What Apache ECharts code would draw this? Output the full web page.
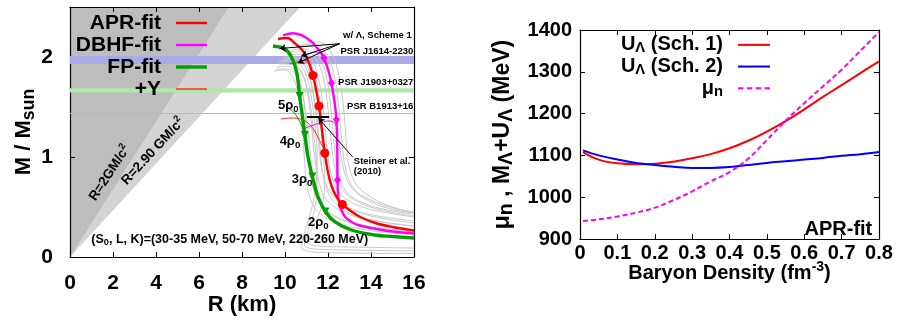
<!DOCTYPE html>
<html>
<head>
<meta charset="utf-8">
<script src="https://cdn.jsdelivr.net/npm/echarts@6/dist/echarts.min.js"></script>
<style>
  html, body { margin: 0; padding: 0; background: #fff; }
  #chart { width: 899px; height: 320px; }
</style>
</head>
<body>
<div id="chart"></div>
<script>
// ---- left panel: M-R relations, [R (km), M / Msun] ----
const aprFit = [[9.68,2.18],[10.1,2.19],[10.5,2.13],[10.8,2.07],[11.0,2.0],[11.15,1.92],[11.3,1.815],[11.45,1.67],[11.58,1.51],[11.72,1.27],[11.85,1.04],[11.98,0.87],[12.15,0.72],[12.4,0.6],[12.67,0.525],[13.0,0.47],[13.5,0.4],[14.2,0.34],[15.0,0.3],[16,0.265]];
const dbhfFit = [[9.91,2.217],[10.37,2.237],[10.75,2.22],[11.0,2.19],[11.25,2.15],[11.46,2.1],[11.65,2.05],[11.81,1.99],[12.0,1.876],[12.16,1.74],[12.31,1.54],[12.39,1.374],[12.43,1.1],[12.44,0.77],[12.5,0.56],[12.62,0.47],[12.8,0.4],[13.1,0.35],[13.4,0.32],[14.0,0.29],[14.8,0.26],[16,0.235]];
const fpFit = [[9.44,2.11],[9.91,2.09],[10.15,2.05],[10.3,2.0],[10.45,1.92],[10.55,1.84],[10.62,1.74],[10.68,1.61],[10.75,1.5],[10.81,1.41],[10.92,1.22],[11.07,1.0],[11.27,0.805],[11.53,0.605],[11.88,0.455],[12.31,0.354],[13.09,0.27],[14.17,0.22],[15.0,0.205],[16,0.19]];
const aprDots = [[11.3,1.815],[11.58,1.51],[11.85,1.04],[12.67,0.525]];
const dbhfDots = [[11.81,1.99],[12.16,1.74],[12.39,1.374],[12.44,0.77]];
const fpDots = [[10.68,1.61],[10.92,1.22],[11.27,0.805],[11.88,0.455]];
// hyperon branches
const aprY = [[9.8,1.38],[10.3,1.39],[10.8,1.375],[11.1,1.335],[11.35,1.27],[11.55,1.19],[11.76,1.1]];
const dbhfY = [[10.8,1.28],[11.2,1.31],[11.6,1.34],[12.0,1.36],[12.25,1.35],[12.4,1.3]];
const fpY = [[10.1,1.49],[10.35,1.46],[10.6,1.39],[10.8,1.3],[10.9,1.24]];
const aprLam = [[10.2,1.93],[10.6,1.95],[10.9,1.965],[11.12,1.95]];
const dbhfLam = [[10.75,2.0],[11.1,2.03],[11.4,2.05],[11.68,2.04]];
// background family of curves
const grayCurves = [
  [[9.6,1.9],[10.1,1.91],[10.5,1.84],[10.8,1.66],[10.95,1.4],[11.05,1.1],[11.2,0.8],[11.5,0.58],[12.2,0.42],[13.5,0.32],[16,0.25]],
  [[9.7,1.96],[10.2,1.97],[10.7,1.88],[11.0,1.7],[11.2,1.4],[11.35,1.05],[11.55,0.78],[11.9,0.58],[12.8,0.44],[14.2,0.36],[16,0.31]],
  [[9.9,2.0],[10.5,2.0],[10.95,1.9],[11.25,1.7],[11.45,1.4],[11.6,1.05],[11.8,0.8],[12.2,0.62],[13.2,0.47],[14.6,0.4],[16,0.36]],
  [[10.2,2.05],[10.8,2.06],[11.3,1.95],[11.6,1.75],[11.8,1.45],[11.95,1.1],[12.15,0.82],[12.6,0.62],[13.6,0.5],[14.8,0.44],[16,0.4]],
  [[10.5,2.1],[11.1,2.11],[11.6,2.0],[11.95,1.78],[12.15,1.45],[12.3,1.1],[12.5,0.82],[12.95,0.63],[13.9,0.52],[15,0.46],[16,0.43]],
  [[10.8,2.13],[11.4,2.13],[11.95,2.02],[12.3,1.8],[12.5,1.5],[12.65,1.15],[12.85,0.85],[13.3,0.66],[14.2,0.55],[15.2,0.48],[16,0.45]],
  [[9.5,1.86],[10.0,1.87],[10.4,1.78],[10.65,1.58],[10.8,1.3],[10.9,1.0],[11.0,0.75],[11.3,0.52],[12.0,0.38],[13.5,0.28],[16,0.22]],
  [[9.7,1.93],[10.3,1.93],[10.8,1.83],[11.1,1.62],[11.3,1.3],[11.45,0.98],[11.5,0.7],[11.35,0.45],[11.05,0.25],[10.9,0.12],[11.4,0.08],[13,0.07],[16,0.06]],
  [[10.0,1.98],[10.6,1.99],[11.1,1.88],[11.45,1.65],[11.65,1.32],[11.8,1.0],[11.85,0.72],[11.7,0.5],[11.3,0.3],[11.0,0.16],[11.5,0.11],[13,0.1],[16,0.09]],
  [[9.8,1.95],[10.4,1.96],[10.9,1.86],[11.2,1.63],[11.4,1.3],[11.5,1.0],[11.45,0.72],[11.2,0.45],[10.85,0.2],[10.75,0.1],[11.3,0.05],[13,0.04],[16,0.035]],
  [[10.3,2.07],[10.9,2.08],[11.45,1.98],[11.8,1.78],[12.0,1.48],[12.15,1.15],[12.35,0.86],[12.8,0.64],[13.7,0.52],[14.9,0.45],[16,0.41]],
  [[10.6,2.11],[11.2,2.12],[11.75,2.02],[12.1,1.8],[12.35,1.5],[12.5,1.2],[12.7,0.9],[13.1,0.69],[14,0.55],[15.1,0.47],[16,0.44]],
  [[11.0,2.15],[11.6,2.15],[12.15,2.04],[12.5,1.82],[12.72,1.5],[12.85,1.15],[13.0,0.88],[13.4,0.7],[14.3,0.56],[15.3,0.48],[16,0.45]],
  [[9.6,1.88],[10.1,1.88],[10.55,1.8],[10.85,1.6],[11.05,1.3],[11.2,0.98],[11.35,0.72],[11.7,0.52],[12.5,0.39],[14,0.3],[16,0.26]],
  [[10.1,2.02],[10.7,2.03],[11.2,1.93],[11.5,1.72],[11.7,1.4],[11.85,1.05],[12.05,0.78],[12.45,0.58],[13.4,0.45],[14.7,0.38],[16,0.34]],
  [[9.9,1.98],[10.5,1.98],[11.0,1.88],[11.3,1.66],[11.5,1.36],[11.65,1.05],[11.8,0.78],[12.2,0.57],[13.1,0.43],[14.5,0.35],[16,0.31]]
];
// causality / GR limits R = 2GM/c^2 and R = 2.90 GM/c^2
const grLimit = [[0,0],[7.38,2.5]];
const causalLimit = [[0,0],[10.71,2.5]];
// observed masses
const psr1614 = [1.93, 2.01];
const psr1903 = [1.646, 1.688];
const psr1913 = 1.44;
const steinerBar = [[11.02,1.4],[12.05,1.4]];
const steinerArrow = [[13.15,1.0],[11.55,1.39]];
const lambdaFrom = [12.54,2.133];
const lambdaTo = [[9.75,2.085],[10.76,2.01],[10.6,1.94]];

// ---- right panel: energies vs baryon density ----
const density = [0.008,0.05,0.1,0.15,0.2,0.25,0.3,0.35,0.4,0.45,0.5,0.55,0.6,0.65,0.7,0.75,0.8];
const uSch1 = [1108,1090,1081,1079,1080,1085,1093,1103,1117,1135,1157,1182,1210,1240,1268,1297,1325];
const uSch2 = [1112,1100,1090,1082,1077,1073,1070,1070,1072,1077,1082,1086,1090,1094,1099,1103,1108];
const muN = [943,947,954,963,975,993,1014,1038,1060,1092,1137,1183,1225,1265,1305,1350,1395];

const FONT = "'Liberation Sans', Arial, Helvetica, sans-serif";
function txt(size) {
  return { fontFamily: FONT, fontWeight: 'bold', fontSize: size, color: '#000' };
}
function richFor(size, subScale) {
  const k = subScale || 0.74;
  return {
    s: Object.assign(txt(size * k), { lineHeight: size * 0.8, verticalAlign: 'bottom' }),
    p: Object.assign(txt(size * 0.7), { lineHeight: size * 0.8, verticalAlign: 'top' }),
    g: Object.assign(txt(size), { width: 10 })
  };
}

// text notes on the left panel (anchor in data units)
const leftNotes = [
  { at: [12.70, 2.212], text: 'w/ Λ, Scheme 1', size: 9.5, align: 'left' },
  { at: [15.97, 2.06], text: 'PSR J1614-2230', size: 9.5, align: 'right' },
  { at: [15.97, 1.745], text: 'PSR J1903+0327', size: 9.5, align: 'right' },
  { at: [15.97, 1.507], text: 'PSR B1913+16', size: 9.5, align: 'right' },
  { at: [13.2, 0.958], text: 'Steiner et al.', size: 9.5, align: 'left' },
  { at: [13.2, 0.853], text: '(2010)', size: 9.5, align: 'left' },
  { at: [9.67, 1.515], text: '5ρ{s|0}', size: 13, align: 'left' },
  { at: [9.75, 1.156], text: '4ρ{s|0}', size: 13, align: 'left' },
  { at: [10.31, 0.772], text: '3ρ{s|0}', size: 13, align: 'left' },
  { at: [11.07, 0.344], text: '2ρ{s|0}', size: 13, align: 'left' },
  { at: [0.99, 0.178], text: '(S{s|0}, L, K)=(30-35 MeV, 50-70 MeV, 220-260 MeV)', size: 12.5, align: 'left' },
  { at: [1.85, 0.84], text: 'R=2GM/c{p|2}', size: 13.5, align: 'center', rotate: 56.7 },
  { at: [3.86, 1.056], text: 'R=2.90 GM/c{p|2}', size: 13.5, align: 'center', rotate: 47.4 }
];

function noteData(list) {
  return list.map(function (n) {
    return {
      value: n.at,
      label: Object.assign(txt(n.size), {
        show: true, position: [0, 0], formatter: n.text, align: n.align,
        verticalAlign: 'middle', rotate: n.rotate || 0, lineHeight: n.size * 1.3,
        rich: richFor(n.size)
      })
    };
  });
}
function notes(list, axisIdx) {
  return {
    type: 'scatter', xAxisIndex: axisIdx, yAxisIndex: axisIdx, symbolSize: 0, silent: true, z: 7,
    itemStyle: { color: '#000', opacity: 1 }, data: noteData(list)
  };
}

function curve(name, data, color, width, z, extra) {
  return Object.assign({
    name: name, type: 'line', data: data, xAxisIndex: 0, yAxisIndex: 0,
    symbol: 'none', smooth: 0.35, silent: true, z: z,
    lineStyle: { color: color, width: width }, itemStyle: { color: color }
  }, extra || {});
}
function dots(data, symbol, size, color, rotate) {
  return {
    type: 'scatter', data: data, xAxisIndex: 0, yAxisIndex: 0, symbol: symbol,
    symbolSize: size, symbolRotate: rotate || 0, itemStyle: { color: color, opacity: 1 }, z: 6, silent: true
  };
}
// flat bar icons for the legends, so the key shows the line width only
function barIcon(h) { return 'path://M0,0H31V' + h + 'H0Z'; }
const dashIcon = 'path://M0,0H5V2H0Z M8,0H13V2H8Z M16,0H21V2H16Z M24,0H29V2H24Z';

const axisBase = {
  axisLine: { show: true, onZero: false, lineStyle: { color: '#000', width: 1.2 } },
  axisTick: { show: true, inside: true, length: 5, lineStyle: { color: '#000', width: 1 } },
  splitLine: { show: false },
  nameMoveOverlap: false
};
function axis(o) { return Object.assign({}, JSON.parse(JSON.stringify(axisBase)), o); }

const series = [];
// shaded triangles
series.push(curve('', causalLimit, '#d3d3d3', 0, 0, {
  smooth: false, areaStyle: { color: '#d3d3d3', opacity: 1, origin: 'end' },
  markArea: {
    silent: true, z: 1,
    data: [
      [{ yAxis: psr1614[0], itemStyle: { color: '#aaaae6' } }, { yAxis: psr1614[1] }],
      [{ yAxis: psr1903[0], itemStyle: { color: '#aee6ae' } }, { yAxis: psr1903[1] }]
    ]
  },
  markLine: {
    silent: true, z: 1, symbol: ['none', 'none'], label: { show: false },
    lineStyle: { color: '#f2a0a0', width: 1, type: 'solid' },
    data: [{ yAxis: psr1913 }]
  }
}));
series.push(curve('', grLimit, '#bdbdbd', 0, 0, {
  smooth: false, areaStyle: { color: '#bdbdbd', opacity: 1, origin: 'end' }
}));
grayCurves.forEach(function (c) { series.push(curve('', c, '#c9c9c9', 1, 2)); });
series.push(curve('+Y', aprY, '#ff2020', 1, 3));
series.push(curve('+Y DBHF', dbhfY, '#ff00ff', 1, 3));
series.push(curve('+Y FP', fpY, '#00a000', 1, 3));
series.push(curve('Λ APR', aprLam, '#ff0000', 1, 3));
series.push(curve('Λ DBHF', dbhfLam, '#ff00ff', 1, 3));
series.push(curve('DBHF-fit', dbhfFit, '#ff00ff', 2.4, 4));
series.push(curve('APR-fit', aprFit, '#ff0000', 2.4, 4));
series.push(curve('FP-fit', fpFit, '#00a000', 3.4, 4));
series.push(dots(aprDots, 'circle', 9, '#ff0000'));
series.push(dots(dbhfDots, 'diamond', [7, 9], '#ff00ff'));
series.push(dots(fpDots, 'triangle', 8, '#00a000', 180));
// Steiner et al. bar and arrows
series.push(curve('', steinerBar, '#000', 2, 5, {
  smooth: false,
  markLine: {
    silent: true, z: 5, symbol: ['none', 'arrow'], symbolSize: 6, label: { show: false },
    lineStyle: { color: '#000', width: 1, type: 'solid' },
    data: [[{ coord: steinerArrow[0] }, { coord: steinerArrow[1] }]].concat(
      lambdaTo.map(function (p) { return [{ coord: lambdaFrom }, { coord: p }]; }))
  }
}));
series.push(notes(leftNotes, 0));

// right panel
function pairs(ys) { return density.map(function (d, i) { return [d, ys[i]]; }); }
function rcurve(name, ys, color, type) {
  return {
    name: name, type: 'line', data: pairs(ys), xAxisIndex: 2, yAxisIndex: 2,
    symbol: 'none', smooth: 0.4, silent: true, z: 4,
    lineStyle: { color: color, width: 2, type: type || 'solid' }, itemStyle: { color: color }
  };
}
series.push(rcurve('UΛ (Sch. 1)', uSch1, '#ff0000'));
series.push(rcurve('UΛ (Sch. 2)', uSch2, '#0000ff'));
series.push(rcurve('μn', muN, '#ff00ff', [5, 3]));
series.push(notes([{ at: [0.782, 922.7], text: 'APR-fit', size: 20, align: 'right' }], 2));

const legendText = {
  'UΛ (Sch. 1)': 'U{s|Λ} (Sch. 1){g| }',
  'UΛ (Sch. 2)': 'U{s|Λ} (Sch. 2){g| }',
  'μn': 'μ{s|n}{g| }'
};

const option = {
  animation: false,
  backgroundColor: '#fff',
  grid: [
    { left: 70, top: 7, width: 344, height: 250, outerBoundsMode: 'none' },
    { left: 580, top: 30, width: 299, height: 209, outerBoundsMode: 'none' }
  ],
  legend: [
    {
      data: [
        { name: 'APR-fit', icon: barIcon(2.4) },
        { name: 'DBHF-fit', icon: barIcon(2.4) },
        { name: 'FP-fit', icon: barIcon(3.4) },
        { name: '+Y', icon: barIcon(1.4) }
      ],
      orient: 'vertical', align: 'right',
      right: 692, top: 12, padding: 0, itemGap: 0, itemWidth: 31, itemHeight: 12,
      selectedMode: false, formatter: function (n) { return n + '{g| }'; },
      textStyle: Object.assign(txt(21), { lineHeight: 22, rich: richFor(21) })
    },
    {
      data: [
        { name: 'UΛ (Sch. 1)', icon: barIcon(2) },
        { name: 'UΛ (Sch. 2)', icon: barIcon(2) },
        { name: 'μn', icon: dashIcon }
      ],
      orient: 'vertical', align: 'right',
      right: 129, top: 34, padding: 0, itemGap: 0, itemWidth: 32, itemHeight: 12,
      selectedMode: false, formatter: function (n) { return legendText[n]; },
      textStyle: Object.assign(txt(20), { lineHeight: 21.7, rich: richFor(20) })
    }
  ],
  xAxis: [
    axis({
      gridIndex: 0, type: 'value', position: 'bottom', min: 0, max: 16, interval: 2,
      axisLabel: Object.assign(txt(21), { margin: 16 }),
      name: 'R (km)', nameLocation: 'middle', nameGap: 35,
      nameTextStyle: Object.assign(txt(22), { lineHeight: 26 })
    }),
    axis({ gridIndex: 0, type: 'value', position: 'top', min: 0, max: 16, interval: 2, axisLabel: { show: false } }),
    axis({
      gridIndex: 1, type: 'value', position: 'bottom', min: 0, max: 0.8, interval: 0.1,
      axisLabel: Object.assign(txt(20), { margin: 4 }),
      name: 'Baryon Density (fm{p|-3})', nameLocation: 'middle', nameGap: 21,
      nameTextStyle: Object.assign(txt(20), { lineHeight: 26, rich: richFor(20) })
    }),
    axis({ gridIndex: 1, type: 'value', position: 'top', min: 0, max: 0.8, interval: 0.1, axisLabel: { show: false } })
  ],
  yAxis: [
    axis({
      gridIndex: 0, type: 'value', position: 'left', min: 0, max: 2.5, interval: 1,
      axisLabel: Object.assign(txt(21), {
        margin: 17, formatter: function (v) { return Number.isInteger(v) ? String(v) : ''; }
      }),
      name: 'M / M{s|sun}', nameLocation: 'middle', nameGap: 32,
      nameTextStyle: Object.assign(txt(22), { lineHeight: 28, rich: richFor(22, 0.8) })
    }),
    axis({ gridIndex: 0, type: 'value', position: 'right', min: 0, max: 2.5, interval: 1, axisLabel: { show: false } }),
    axis({
      gridIndex: 1, type: 'value', position: 'left', min: 900, max: 1400, interval: 100,
      axisLabel: Object.assign(txt(20), { margin: 8, formatter: function (v) { return String(v); } }),
      name: 'μ{s|n} , M{s|Λ}+U{s|Λ} (MeV)', nameLocation: 'middle', nameGap: 63,
      nameTextStyle: Object.assign(txt(23), { lineHeight: 29, rich: richFor(23, 0.85) })
    }),
    axis({ gridIndex: 1, type: 'value', position: 'right', min: 900, max: 1400, interval: 100, axisLabel: { show: false } })
  ],
  series: series
};

const chart = echarts.init(document.getElementById('chart'), null, { renderer: 'canvas' });
chart.setOption(option);
</script>
</body>
</html>
